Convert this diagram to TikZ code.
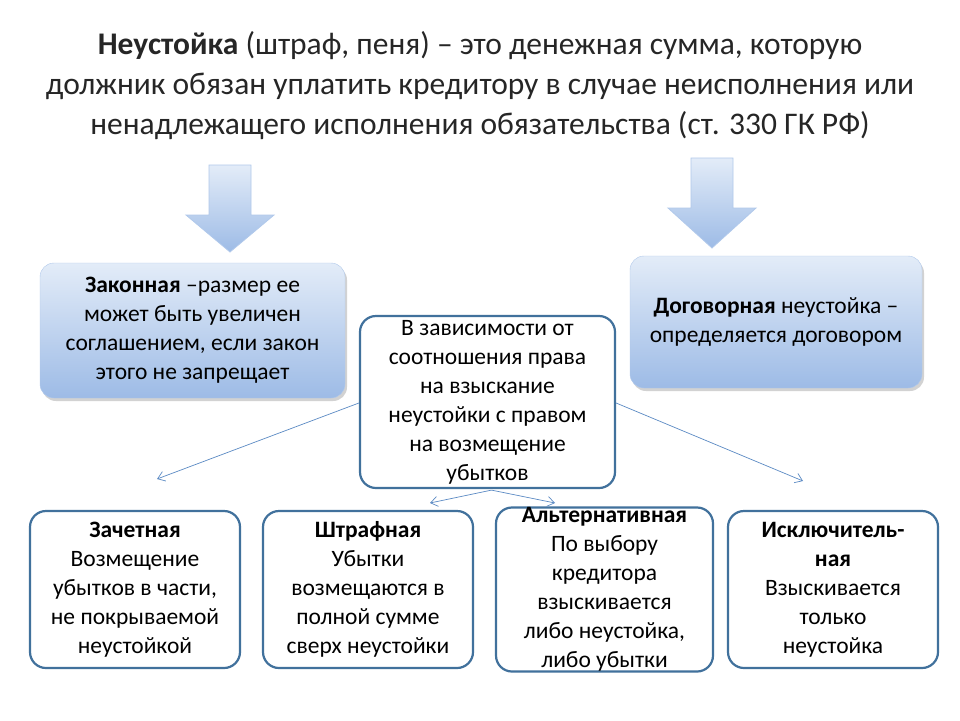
\documentclass[tikz,border=0pt]{standalone}
\usepackage{fontspec}
\setmainfont{Carlito}
\usetikzlibrary{shadows,arrows.meta}
\definecolor{bord}{HTML}{41719C}
\definecolor{ln}{HTML}{5B8AC4}
\definecolor{gtop}{HTML}{E3ECF8}
\definecolor{gbot}{HTML}{9DBBE6}
\tikzset{
  gbox/.style={draw=gbot!80!white,rounded corners=14pt,top color=gtop,bottom color=gbot,drop shadow={opacity=0.35,shadow xshift=2pt,shadow yshift=-3pt},align=center,font=\fontsize{23.5}{29}\selectfont,inner sep=0pt},
  wbox/.style={draw=bord,line width=2.2pt,rounded corners=16pt,fill=white,align=center,font=\fontsize{23.5}{29}\selectfont,inner sep=0pt},
  conn/.style={draw=ln,line width=0.7pt,-{Straight Barb[length=7pt,width=10pt]}},
  bigarrow/.style={draw=gbot!80!white,top color=gtop,bottom color=gbot,line width=0.8pt}
}
\begin{document}
\begin{tikzpicture}[x=1pt,y=-1pt]
\useasboundingbox (0,0) rectangle (960,720);
\fill[white] (0,0) rectangle (960,720);
\node[font=\fontsize{31.5}{40}\selectfont,align=center,text=black!85] (title) at (480,86)
 {\textbf{Неустойка} (штраф, пеня) – это денежная сумма, которую\\
 должник обязан уплатить кредитору в случае неисполнения или\\
 ненадлежащего исполнения обязательства (ст. 330 ГК РФ)};
% big arrows
\path[bigarrow] (209,165) -- (251,165) -- (251,215) -- (274,215) -- (230,252) -- (186,215) -- (209,215) -- cycle;
\path[bigarrow] (691,158) -- (733,158) -- (733,208) -- (756,208) -- (712,248) -- (668,208) -- (691,208) -- cycle;
% top boxes
\node[gbox,minimum width=305pt,minimum height=135pt] (law) at (192.5,330.5)
 {\textbf{Законная} –размер ее\\может быть увеличен\\соглашением, если закон\\этого не запрещает};
\node[gbox,minimum width=292pt,minimum height=132pt] (dog) at (776,322)
 {\textbf{Договорная} неустойка –\\определяется договором};
\node[wbox,minimum width=255pt,minimum height=172pt] (mid) at (487.5,402)
 {В зависимости от\\соотношения права\\на взыскание\\неустойки с правом\\на возмещение\\убытков};
% bottom boxes
\node[wbox,minimum width=210pt,minimum height=157pt] (b1) at (135,589.5)
 {\textbf{Зачетная}\\Возмещение\\убытков в части,\\не покрываемой\\неустойкой};
\node[wbox,minimum width=210pt,minimum height=157pt] (b2) at (368,589.5)
 {\textbf{Штрафная}\\Убытки\\возмещаются в\\полной сумме\\сверх неустойки};
\node[wbox,minimum width=217pt,minimum height=157pt] (b3) at (604.5,589.5)
 {\textbf{Альтернативная}\\По выбору\\кредитора\\взыскивается\\либо неустойка,\\либо убытки};
\node[wbox,minimum width=210pt,minimum height=157pt] (b4) at (833,589.5)
 {\textbf{Исключитель-}\\\textbf{ная}\\Взыскивается\\только\\неустойка};
% connectors
\coordinate (l1) at (157,479);
\coordinate (r1) at (803,481);
\coordinate (lb) at (430,503);
\coordinate (rb) at (555,503);
\draw[conn] (mid.west |- 0,403) -- (l1);
\draw[conn] (mid.east |- 0,403) -- (r1);
\draw[conn] (mid.south) ++(4,1) coordinate (ms) -- (lb);
\draw[conn] (ms) -- (rb);
\end{tikzpicture}
\end{document}
